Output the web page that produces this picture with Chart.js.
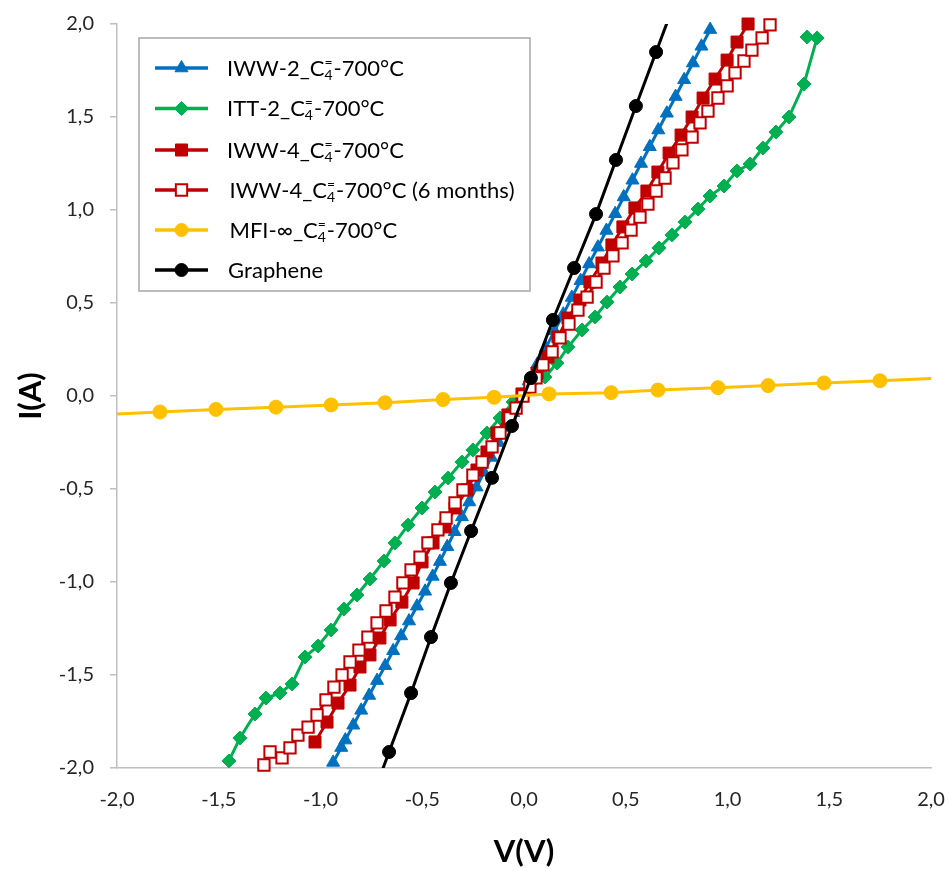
<!DOCTYPE html>
<html>
<head>
<meta charset="utf-8">
<script src="https://cdn.jsdelivr.net/npm/chart.js@4/dist/chart.umd.min.js"></script>
<style>
  html, body { margin: 0; padding: 0; background: #ffffff; }
  #wrap { width: 949px; height: 871px; }
</style>
</head>
<body>
<div id="wrap"><canvas id="c" width="949" height="871"></canvas></div>
<script>
// ---------- DATA ----------
const seriesLabels = [
  'IWW-2_C₄⁼-700°C',
  'ITT-2_C₄⁼-700°C',
  'IWW-4_C₄⁼-700°C',
  'IWW-4_C₄⁼-700°C (6 months)',
  'MFI-∞_C₄⁼-700°C',
  'Graphene'
];

const axisTicks = [-2.0, -1.5, -1.0, -0.5, 0.0, 0.5, 1.0, 1.5, 2.0];

// IWW-2 (blue triangles)
const iww2V = [-0.938, -0.898, -0.878, -0.839, -0.800, -0.761, -0.722, -0.682, -0.643, -0.604, -0.565, -0.526, -0.486,
  -0.449, -0.413, -0.377, -0.341, -0.305, -0.269, -0.233, -0.197, -0.161, -0.125, -0.089, -0.053, -0.016,
  0.023, 0.065, 0.108, 0.150, 0.193, 0.235, 0.278, 0.320, 0.363, 0.405, 0.448, 0.490, 0.533, 0.575, 0.618,
  0.660, 0.702, 0.745, 0.787, 0.830, 0.872, 0.915];
const iww2I = [-1.97, -1.89, -1.85, -1.77, -1.69, -1.61, -1.53, -1.45, -1.37, -1.29, -1.21, -1.13, -1.05,
  -0.97, -0.89, -0.81, -0.73, -0.65, -0.57, -0.49, -0.41, -0.33, -0.25, -0.17, -0.09, -0.01,
  0.08, 0.17, 0.26, 0.35, 0.44, 0.53, 0.62, 0.71, 0.80, 0.89, 0.98, 1.07, 1.16, 1.25, 1.34,
  1.43, 1.52, 1.61, 1.70, 1.79, 1.88, 1.97];

// ITT-2 (green diamonds)
const itt2V = [-1.450, -1.396, -1.322, -1.268, -1.199, -1.140, -1.076, -1.012, -0.948, -0.885, -0.821, -0.757,
  -0.688, -0.634, -0.570, -0.501, -0.437, -0.373, -0.305, -0.251, -0.182, -0.118, -0.054, 0.025, 0.103,
  0.162, 0.216, 0.285, 0.349, 0.408, 0.472, 0.531, 0.600, 0.663, 0.727, 0.791, 0.855, 0.914, 0.983,
  1.047, 1.111, 1.174, 1.238, 1.302, 1.376, 1.440, 1.391];
const itt2I = [-1.962, -1.839, -1.710, -1.624, -1.597, -1.548, -1.403, -1.344, -1.258, -1.145, -1.070, -0.984,
  -0.887, -0.790, -0.694, -0.602, -0.516, -0.441, -0.355, -0.290, -0.199, -0.118, -0.032, 0.038, 0.102,
  0.177, 0.263, 0.355, 0.425, 0.505, 0.586, 0.656, 0.726, 0.796, 0.866, 0.935, 1.005, 1.075, 1.129,
  1.210, 1.247, 1.333, 1.419, 1.500, 1.677, 1.925, 1.930];

// IWW-4 (red filled squares)
const iww4V = [-1.027, -0.968, -0.914, -0.855, -0.806, -0.757, -0.708, -0.658, -0.600, -0.545, -0.501, -0.447,
  -0.388, -0.339, -0.280, -0.231, -0.182, -0.133, -0.079, -0.010, 0.064, 0.118, 0.167, 0.216, 0.275,
  0.324, 0.383, 0.432, 0.486, 0.545, 0.604, 0.658, 0.713, 0.772, 0.826, 0.880, 0.939, 0.998, 1.047, 1.101];
const iww4I = [-1.860, -1.753, -1.651, -1.554, -1.457, -1.392, -1.301, -1.204, -1.108, -1.005, -0.892, -0.790,
  -0.704, -0.602, -0.505, -0.398, -0.301, -0.199, -0.102, 0.011, 0.124, 0.210, 0.317, 0.419, 0.516,
  0.613, 0.715, 0.812, 0.909, 1.011, 1.102, 1.204, 1.306, 1.403, 1.500, 1.602, 1.704, 1.806, 1.903, 2.000];

// IWW-4 after 6 months (red open squares)
const iww4mV = [-1.278, -1.248, -1.189, -1.150, -1.111, -1.061, -1.017, -0.973, -0.934, -0.894, -0.855, -0.811,
  -0.767, -0.722, -0.678, -0.634, -0.595, -0.555, -0.511, -0.472, -0.423, -0.383, -0.339, -0.300, -0.251,
  -0.206, -0.157, -0.118, -0.069, -0.039, -0.005, 0.029, 0.059, 0.093, 0.138, 0.177, 0.221, 0.265, 0.310,
  0.354, 0.393, 0.437, 0.482, 0.526, 0.570, 0.609, 0.649, 0.693, 0.732, 0.776, 0.826, 0.865, 0.904, 0.953,
  0.998, 1.037, 1.081, 1.120, 1.170, 1.209];
const iww4mI = [-1.984, -1.914, -1.946, -1.892, -1.823, -1.780, -1.715, -1.634, -1.565, -1.500, -1.430, -1.366,
  -1.296, -1.220, -1.156, -1.081, -1.005, -0.935, -0.866, -0.790, -0.720, -0.656, -0.575, -0.505, -0.425,
  -0.355, -0.274, -0.199, -0.118, -0.065, 0.000, 0.048, 0.097, 0.167, 0.237, 0.312, 0.387, 0.462, 0.532,
  0.613, 0.688, 0.753, 0.823, 0.892, 0.962, 1.032, 1.102, 1.172, 1.253, 1.323, 1.392, 1.468, 1.532, 1.602,
  1.667, 1.737, 1.801, 1.860, 1.925, 1.995];

// MFI-inf (yellow circles)
const mfiV = [-2.06, -1.789, -1.514, -1.219, -0.948, -0.683, -0.398, -0.147, 0.123, 0.428, 0.658, 0.953, 1.199, 1.474, 1.749, 2.06];
const mfiI = [-0.099, -0.086, -0.072, -0.060, -0.048, -0.036, -0.019, -0.007, 0.011, 0.018, 0.032, 0.045, 0.056, 0.070, 0.082, 0.097];

// Graphene (black circles)
const grapheneV = [-0.767, -0.663, -0.555, -0.457, -0.359, -0.260, -0.157, -0.059, 0.034, 0.142, 0.246, 0.354, 0.452, 0.550, 0.649, 0.752];
const grapheneI = [-2.22, -1.914, -1.597, -1.296, -1.005, -0.726, -0.440, -0.161, 0.097, 0.409, 0.688, 0.978, 1.269, 1.559, 1.849, 2.15];

// ---------- helpers ----------
function pts(xs, ys) { return xs.map((x, i) => ({ x: x, y: ys[i] })); }
function fmt(v) { return v.toFixed(1).replace('.', ','); }
const FONT = 'Lato, "Open Sans", "Liberation Sans", sans-serif';
function insideRadius(r) {
  return (ctx) => {
    const p = ctx.raw;
    if (p && (Math.abs(p.x) > 2.0001 || Math.abs(p.y) > 2.0001)) return 0;
    return r;
  };
}

const BLUE = '#0070C0', GREEN = '#00B050', RED = '#C00000', YELLOW = '#FFC000', BLACK = '#000000';

const datasets = [
  { label: seriesLabels[0], data: pts(iww2V, iww2I), borderColor: BLUE, backgroundColor: BLUE,
    pointStyle: 'triangle', pointRadius: 7.5, pointBorderWidth: 1, borderWidth: 3, order: 5, clip: 10 },
  { label: seriesLabels[1], data: pts(itt2V, itt2I), borderColor: GREEN, backgroundColor: GREEN,
    pointStyle: 'rectRot', pointRadius: 7, pointBorderWidth: 1, borderWidth: 3, order: 4, clip: 10 },
  { label: seriesLabels[2], data: pts(iww4V, iww4I), borderColor: RED, backgroundColor: RED,
    pointStyle: 'rect', pointRadius: 8.5, pointBorderWidth: 1, borderWidth: 3, order: 3, clip: 10 },
  { label: seriesLabels[3], data: pts(iww4mV, iww4mI), borderColor: RED, backgroundColor: '#ffffff',
    pointStyle: 'rect', pointRadius: 8, pointBorderWidth: 2, borderWidth: 3, order: 2, clip: 10 },
  { label: seriesLabels[4], data: pts(mfiV, mfiI), borderColor: YELLOW, backgroundColor: YELLOW,
    pointStyle: 'circle', pointRadius: insideRadius(7), pointBorderWidth: 1, borderWidth: 3, order: 1 },
  { label: seriesLabels[5], data: pts(grapheneV, grapheneI), borderColor: BLACK, backgroundColor: BLACK,
    pointStyle: 'circle', pointRadius: insideRadius(6.5), pointBorderWidth: 1, borderWidth: 3, order: 0 }
];
datasets.forEach(d => { d.showLine = true; d.pointHoverRadius = d.pointRadius; d.pointBackgroundColor = d.backgroundColor; d.pointBorderColor = d.borderColor; });

// ---------- custom legend (box inside plot area, line + marker samples, sub/superscripts) ----------
const LEG_SIZE = 22;
function drawRich(ctx, text, x, baseY, size) {
  let cx = x;
  const small = Math.round(size * 0.62);
  for (let i = 0; i < text.length; i++) {
    const ch = text[i];
    if (ch === '₄' || ch === '⁼') {
      ctx.font = small + 'px ' + FONT;
      const w4 = ctx.measureText('4').width, we = ctx.measureText('=').width;
      const next = text[i + 1];
      if (ch === '₄') {
        ctx.fillText('4', cx, baseY + 4);
        if (next === '⁼') { ctx.fillText('=', cx, baseY - 9); i++; }
        cx += Math.max(w4, next === '⁼' ? we : 0) + 1;
      } else {
        ctx.fillText('=', cx, baseY - 9);
        cx += we + 1;
      }
    } else {
      ctx.font = size + 'px ' + FONT;
      ctx.fillText(ch, cx, baseY);
      cx += ctx.measureText(ch).width;
    }
  }
}

const legendPlugin = {
  id: 'boxLegend',
  afterDraw(chart) {
    const ctx = chart.ctx;
    const ca = chart.chartArea;
    const bx = ca.left + 22, by = ca.top + 14, bw = 391, bh = 253;
    ctx.save();
    ctx.fillStyle = '#ffffff';
    ctx.fillRect(bx, by, bw, bh);
    ctx.strokeStyle = '#a6a6a6';
    ctx.lineWidth = 1.5;
    ctx.strokeRect(bx, by, bw, bh);
    const rowY = [68, 108.5, 150, 190, 230, 270];
    const textX = [227, 227, 227, 229.5, 229.5, 228];
    [0, 1, 2, 3, 4, 5].forEach((di, k) => {
      const ds = chart.data.datasets[di];
      const y = rowY[k];
      ctx.strokeStyle = ds.borderColor;
      ctx.lineWidth = 3.5;
      ctx.beginPath();
      ctx.moveTo(155, y);
      ctx.lineTo(208, y);
      ctx.stroke();
      ctx.fillStyle = ds.backgroundColor;
      ctx.strokeStyle = ds.borderColor;
      ctx.lineWidth = ds.pointBorderWidth;
      const r = typeof ds.pointRadius === 'function' ? 6.5 : ds.pointRadius;
      Chart.helpers.drawPoint(ctx, { pointStyle: ds.pointStyle, rotation: 0, radius: r, borderWidth: ds.pointBorderWidth }, 181.5, y);
      ctx.fillStyle = '#000000';
      ctx.textBaseline = 'alphabetic';
      ctx.textAlign = 'left';
      drawRich(ctx, ds.label, textX[k], y + 7.5, LEG_SIZE);
    });
    ctx.restore();
  }
};

const xTickFont = { family: FONT, size: 20 };
const yTickFont = { family: FONT, size: 20, lineHeight: 0.8 };
const titleFont = { family: FONT, size: 31, weight: 'bold' };

new Chart(document.getElementById('c'), {
  type: 'scatter',
  data: { datasets: datasets },
  options: {
    responsive: false,
    animation: false,
    devicePixelRatio: 1,
    layout: { padding: { top: 24, right: 18, left: 0, bottom: 0 } },
    plugins: { legend: { display: false }, tooltip: { enabled: false } },
    scales: {
      x: {
        type: 'linear', min: -2, max: 2,
        afterBuildTicks: (s) => { s.ticks = axisTicks.map(v => ({ value: v })); },
        ticks: { callback: (v) => fmt(v), font: xTickFont, color: '#262626', padding: 0, maxRotation: 0 },
        grid: { display: true, drawOnChartArea: false, drawTicks: true, tickLength: 20, tickColor: 'rgba(0,0,0,0)', color: '#bfbfbf' },
        border: { display: true, color: '#bfbfbf', width: 1.5 },
        title: { display: true, text: 'V(V)', font: titleFont, color: '#000000', padding: { top: 0, bottom: 0 } },
        afterFit: (s) => { s.height = 103; }
      },
      y: {
        type: 'linear', min: -2, max: 2,
        afterBuildTicks: (s) => { s.ticks = axisTicks.map(v => ({ value: v })); },
        ticks: { callback: (v) => fmt(v), font: yTickFont, color: '#262626', padding: 16 },
        grid: { display: true, drawOnChartArea: false, drawTicks: true, tickLength: 7, color: '#bfbfbf', tickColor: '#bfbfbf', lineWidth: 1.5 },
        border: { display: true, color: '#bfbfbf', width: 1.5 },
        title: { display: true, text: 'I(A)', font: titleFont, color: '#000000', padding: { top: 12, bottom: 0 } },
        afterFit: (s) => { s.width = 117; }
      }
    }
  },
  plugins: [legendPlugin]
});
</script>
</body>
</html>
